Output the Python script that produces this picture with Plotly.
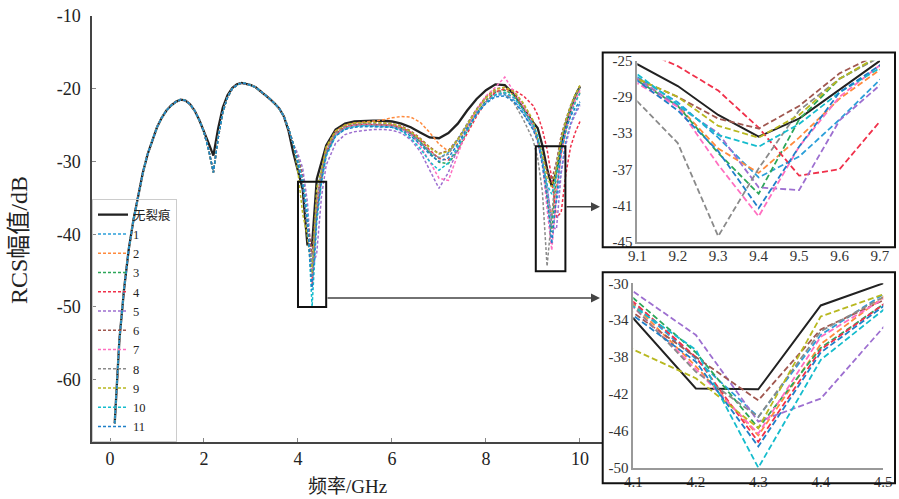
import plotly.graph_objects as go

# frequency grids (GHz)
freq_low = [0.1, 0.2, 0.3, 0.4, 0.5, 0.6, 0.7, 0.8, 0.9, 1.0, 1.1, 1.2, 1.3, 1.4, 1.5, 1.6, 1.7, 1.8, 1.9, 2.0,
            2.1, 2.2, 2.3, 2.4, 2.5, 2.6, 2.7, 2.8, 2.9, 3.0, 3.1, 3.2, 3.3, 3.4, 3.5, 3.6, 3.7, 3.8, 3.9]
freq_high = [4.0, 4.1, 4.2, 4.3, 4.4, 4.5, 4.6, 4.8, 5.0, 5.2, 5.4, 5.6, 5.8, 6.0, 6.2, 6.4, 6.6, 6.8, 7.0, 7.2,
             7.4, 7.6, 7.8, 8.0, 8.2, 8.4, 8.6, 8.8, 9.0, 9.1, 9.2, 9.3, 9.4, 9.5, 9.6, 9.7, 9.8, 9.9, 10.0]

# low band (all curves nearly identical)
low_black = [-66.0, -54.5, -47.5, -42.0, -38.0, -34.8, -31.5, -29.0, -27.0, -25.3, -24.0, -23.0, -22.3, -21.8,
             -21.5, -21.6, -22.1, -23.0, -24.3, -25.8, -27.5, -29.2, -25.5, -22.6, -20.9, -19.9, -19.4, -19.2,
             -19.3, -19.5, -19.8, -20.3, -20.8, -21.4, -22.0, -22.7, -23.8, -25.8, -28.8]
low_crack = [-66.0, -54.5, -47.5, -42.0, -38.0, -34.8, -31.5, -29.0, -27.0, -25.3, -24.0, -23.0, -22.3, -21.8,
             -21.5, -21.6, -22.1, -23.0, -24.3, -26.0, -28.4, -31.5, -26.8, -23.2, -21.2, -20.0, -19.5, -19.2,
             -19.3, -19.5, -19.8, -20.3, -20.8, -21.4, -22.0, -22.7, -23.8, -25.5, -27.6]

# high band, one list per curve
high_black = [-31.5, -33.8, -41.4, -41.5, -32.4, -30.0, -27.8, -25.6, -24.8, -24.5, -24.4, -24.4, -24.4, -24.5,
              -24.8, -25.3, -26.0, -26.7, -26.8, -26.1, -24.8, -23.0, -21.4, -20.2, -19.4, -19.5, -20.8, -22.8,
              -24.6, -25.4, -27.8, -31.0, -33.4, -31.4, -28.2, -25.0, -22.8, -21.0, -19.7]
high_1 = [-30.0, -32.2, -38.2, -44.5, -35.6, -31.2, -28.5, -26.2, -25.4, -25.1, -25.0, -25.0, -25.0, -25.1,
          -25.5, -26.2, -27.3, -28.8, -29.5, -28.8, -27.0, -25.0, -23.2, -21.8, -20.9, -20.8, -21.6, -23.4,
          -25.5, -26.8, -29.6, -33.5, -37.9, -35.6, -31.5, -27.1, -24.8, -23.2, -22.0]
high_2 = [-29.8, -32.3, -39.0, -46.5, -36.6, -31.5, -28.2, -25.8, -25.0, -24.7, -24.6, -24.5, -24.3, -24.0,
          -23.8, -23.9, -24.6, -26.0, -27.6, -28.6, -27.5, -25.2, -23.0, -21.3, -20.3, -20.1, -20.9, -22.8,
          -25.0, -27.0, -30.0, -34.7, -37.4, -33.5, -29.2, -26.0, -23.5, -21.8, -20.5]
high_3 = [-29.5, -31.6, -37.5, -45.7, -37.0, -32.3, -28.8, -26.2, -25.3, -25.0, -24.9, -24.9, -25.0, -25.1,
          -25.5, -26.2, -27.3, -28.8, -30.1, -30.3, -28.5, -25.8, -23.4, -21.6, -20.5, -20.2, -20.9, -22.8,
          -25.0, -27.2, -30.0, -35.2, -39.7, -31.5, -27.0, -24.5, -22.5, -21.0, -19.8]
high_4 = [-29.8, -32.0, -38.0, -47.2, -37.2, -32.3, -29.0, -26.3, -25.3, -25.0, -24.9, -24.9, -24.9, -25.0,
          -25.3, -26.0, -27.0, -28.4, -29.6, -29.8, -28.5, -26.2, -23.8, -21.8, -20.5, -20.0, -20.2, -21.0,
          -22.3, -23.6, -25.6, -28.3, -32.4, -37.7, -37.0, -31.7, -28.0, -26.0, -24.5]
high_5 = [-29.0, -30.9, -35.6, -45.0, -42.5, -34.8, -30.5, -27.5, -26.3, -25.9, -25.7, -25.6, -25.6, -25.7,
          -26.1, -27.0, -28.6, -31.2, -33.7, -31.5, -28.2, -25.5, -23.4, -21.8, -20.8, -20.6, -21.3, -23.0,
          -25.2, -27.0, -30.0, -33.0, -39.0, -39.3, -31.6, -27.7, -25.0, -23.5, -22.3]
high_6 = [-29.8, -33.2, -38.0, -42.7, -35.0, -31.8, -28.7, -26.0, -25.1, -24.8, -24.7, -24.7, -24.7, -24.8,
          -25.1, -25.8, -26.8, -28.0, -28.9, -28.5, -26.9, -24.8, -22.8, -21.1, -20.0, -19.8, -20.5, -22.2,
          -24.5, -27.0, -29.0, -31.4, -32.5, -30.0, -26.4, -24.2, -22.3, -20.8, -19.6]
high_7 = [-30.0, -32.6, -39.3, -46.3, -35.8, -31.7, -28.6, -26.2, -25.3, -25.0, -24.9, -24.9, -25.0, -25.1,
          -25.5, -26.3, -27.8, -30.0, -32.3, -32.6, -29.0, -25.5, -22.8, -21.0, -19.8, -18.4, -20.5, -22.4,
          -24.8, -27.5, -30.1, -36.5, -42.2, -34.5, -29.0, -25.5, -23.2, -21.5, -20.2]
high_8 = [-30.0, -32.5, -39.6, -44.5, -35.2, -31.5, -28.6, -26.1, -25.2, -24.9, -24.8, -24.8, -24.9, -25.0,
          -25.4, -26.1, -27.2, -28.6, -29.5, -29.0, -27.0, -24.8, -22.8, -21.2, -20.3, -20.6, -22.0, -24.3,
          -27.0, -29.5, -34.1, -44.4, -36.9, -30.5, -27.0, -24.6, -22.6, -21.0, -19.9]
high_9 = [-31.5, -37.2, -40.3, -45.7, -33.6, -31.2, -28.0, -25.8, -25.0, -24.7, -24.6, -24.6, -24.7, -24.8,
          -25.2, -25.9, -26.9, -28.1, -29.0, -28.6, -27.0, -24.9, -22.9, -21.2, -20.1, -19.8, -20.4, -22.0,
          -24.3, -27.0, -29.0, -32.2, -33.5, -31.0, -27.0, -24.4, -22.4, -20.8, -19.5]
high_10 = [-30.0, -32.5, -37.2, -50.0, -38.3, -32.9, -29.3, -26.5, -25.5, -25.2, -25.1, -25.1, -25.2, -25.3,
           -25.8, -26.8, -28.2, -30.0, -31.2, -30.2, -28.0, -25.6, -23.5, -21.9, -20.8, -20.5, -21.2, -23.0,
           -24.8, -26.5, -29.8, -33.2, -34.5, -32.0, -28.5, -25.8, -23.6, -21.9, -20.6]
high_11 = [-30.5, -33.5, -38.5, -47.7, -37.5, -32.5, -29.0, -26.5, -25.6, -25.3, -25.2, -25.2, -25.2, -25.3,
           -25.7, -26.5, -27.6, -29.0, -30.0, -29.5, -27.6, -25.4, -23.5, -22.0, -21.1, -21.0, -21.8, -23.5,
           -25.6, -27.2, -30.5, -35.0, -41.3, -34.5, -28.5, -25.5, -23.8, -22.6, -21.8]

names = ["无裂痕", "1", "2", "3", "4", "5", "6", "7", "8", "9", "10", "11"]
colors = ["#222222", "#2b9fd9", "#ff8a3d", "#2ca65a", "#f0304a", "#9d6fd0", "#a0574f",
          "#ff6fc0", "#8a8a8a", "#b8b820", "#15bccd", "#1f7fc8"]
highs = [high_black, high_1, high_2, high_3, high_4, high_5, high_6, high_7, high_8, high_9, high_10, high_11]

# tick values
main_xticks = [0, 2, 4, 6, 8, 10]
main_yticks = [-10, -20, -30, -40, -50, -60]
in1_xticks = [9.1, 9.2, 9.3, 9.4, 9.5, 9.6, 9.7]
in1_yticks = [-25, -29, -33, -37, -41, -45]
in2_xticks = [4.1, 4.2, 4.3, 4.4, 4.5]
in2_yticks = [-30, -34, -38, -42, -46, -50]

for h in highs:
    assert len(h) == len(freq_high), len(h)

W, H = 899, 499
FONT = "Liberation Serif, Noto Sans CJK SC"


def px_x(v):
    return v / W


def px_y(v):
    return 1 - v / H


def labels(vals, fmt="{:g}"):
    # plain hyphen minus, like the original figure
    return [fmt.format(v) for v in vals]


freq = freq_low + freq_high
fig = go.Figure()

for i, name in enumerate(names):
    y = (low_black if i == 0 else low_crack) + highs[i]
    if i == 0:
        line = dict(color=colors[i], width=2.3)
        line_in = dict(color=colors[i], width=2)
    else:
        line = dict(color=colors[i], width=1.5, dash="3px,2px")
        line_in = dict(color=colors[i], width=1.8, dash="6px,3px")
    fig.add_trace(go.Scatter(x=freq, y=y, mode="lines", name=name, line=line,
                             xaxis="x", yaxis="y"))
    fig.add_trace(go.Scatter(x=freq, y=y, mode="lines", name=name, line=line_in,
                             xaxis="x2", yaxis="y2", showlegend=False))
    fig.add_trace(go.Scatter(x=freq, y=y, mode="lines", name=name, line=line_in,
                             xaxis="x3", yaxis="y3", showlegend=False))

main_ax = dict(showline=True, linecolor="#444444", linewidth=1.5, ticks="inside", ticklen=4,
               tickcolor="#888888", showgrid=False, zeroline=False, automargin=False,
               tickfont=dict(family=FONT, size=18, color="#222222"))
inset_ax = dict(showline=True, linecolor="#999999", linewidth=1.5, ticks="", showgrid=False,
                zeroline=False, automargin=False, tickfont=dict(family=FONT, size=15, color="#333333"))

fig.update_layout(
    width=W, height=H,
    margin=dict(l=0, r=0, t=0, b=0),
    paper_bgcolor="white", plot_bgcolor="rgba(0,0,0,0)",
    font=dict(family=FONT, size=15, color="#222222"),
    xaxis=dict(main_ax, domain=[px_x(92), px_x(603)], range=[-0.383, 10.49],
               tickvals=main_xticks, ticktext=labels(main_xticks), anchor="y"),
    yaxis=dict(main_ax, domain=[px_y(442), px_y(16)], range=[-68.56, -10],
               tickvals=main_yticks, ticktext=labels(main_yticks), anchor="x", ticklabelstandoff=6),
    xaxis2=dict(inset_ax, domain=[px_x(637.3), px_x(880)], range=[9.0999, 9.7001],
                tickvals=in1_xticks, ticktext=labels(in1_xticks, "{:.1f}"), anchor="y2"),
    yaxis2=dict(inset_ax, domain=[px_y(241.7), px_y(60.7)], range=[-45.001, -24.999],
                tickvals=in1_yticks, ticktext=labels(in1_yticks), anchor="x2"),
    xaxis3=dict(inset_ax, domain=[px_x(633.3), px_x(883.3)], range=[4.0999, 4.5001],
                tickvals=in2_xticks, ticktext=labels(in2_xticks, "{:.1f}"), anchor="y3"),
    yaxis3=dict(inset_ax, domain=[px_y(467.7), px_y(283.3)], range=[-50.001, -29.999],
                tickvals=in2_yticks, ticktext=labels(in2_yticks), anchor="x3"),
    legend=dict(x=px_x(92), y=px_y(442), xanchor="left", yanchor="bottom",
                bgcolor="rgba(255,255,255,0)", bordercolor="#cccccc", borderwidth=1,
                font=dict(family=FONT, size=12.5, color="#222222")),
    showlegend=True,
)

# zoom boxes on the main plot
fig.add_shape(type="rect", xref="x", yref="y", x0=4.0, x1=4.6, y0=-50, y1=-32.8,
              line=dict(color="#111111", width=2))
fig.add_shape(type="rect", xref="x", yref="y", x0=9.06, x1=9.69, y0=-45.1, y1=-27.9,
              line=dict(color="#111111", width=2))

# inset frames
fig.add_shape(type="rect", xref="paper", yref="paper", x0=px_x(602.7), x1=px_x(895),
              y0=px_y(247.3), y1=px_y(52.5), line=dict(color="#111111", width=2))
fig.add_shape(type="rect", xref="paper", yref="paper", x0=px_x(602.7), x1=px_x(895),
              y0=px_y(483.3), y1=px_y(272.3), line=dict(color="#111111", width=2))

# connector arrows
fig.add_annotation(x=px_x(600), y=px_y(298), xref="paper", yref="paper", ax=-274, ay=0,
                   text="", showarrow=True, arrowhead=2, arrowsize=1.2, arrowwidth=1.5,
                   arrowcolor="#444444")
fig.add_annotation(x=px_x(600), y=px_y(206.7), xref="paper", yref="paper", ax=-35, ay=0,
                   text="", showarrow=True, arrowhead=2, arrowsize=1.2, arrowwidth=1.5,
                   arrowcolor="#444444")

# axis titles
fig.add_annotation(x=px_x(347), y=px_y(486), xref="paper", yref="paper", text="频率/GHz",
                   showarrow=False, xanchor="center", yanchor="middle",
                   font=dict(family=FONT, size=19, color="#222222"))
fig.add_annotation(x=px_x(19), y=px_y(240), xref="paper", yref="paper", text="RCS幅值/dB",
                   showarrow=False, textangle=-90, xanchor="center", yanchor="middle",
                   font=dict(family=FONT, size=24, color="#222222"))

# the page body has a default 8px margin; drop it so the chart sits at 0,0
fig.write_html("out.html", config={"displayModeBar": False},
               post_script="document.body.style.margin='0';")
